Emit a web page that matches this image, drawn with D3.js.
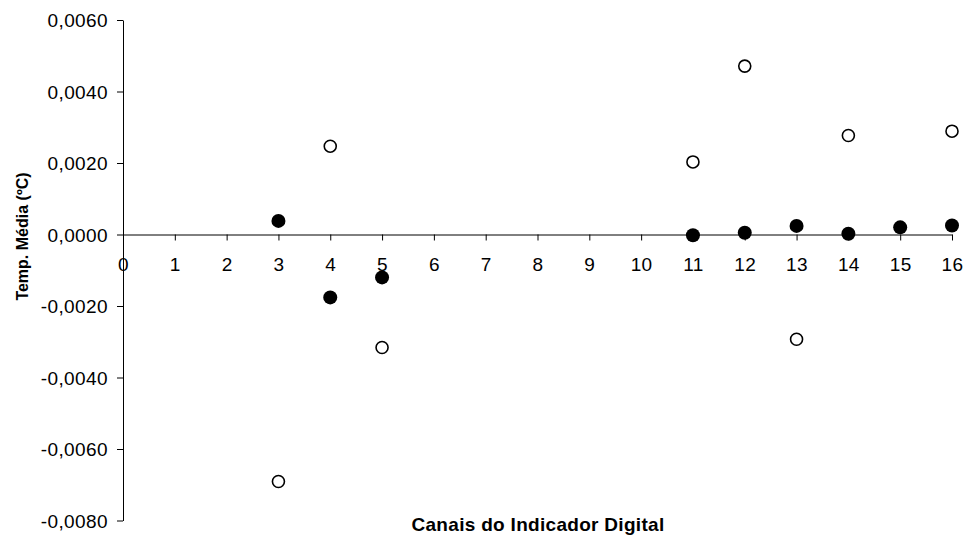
<!DOCTYPE html>
<html>
<head>
<meta charset="utf-8">
<script src="https://cdn.jsdelivr.net/npm/d3@7"></script>
<style>
  body { margin: 0; background: #fff; }
  svg text { font-family: "Liberation Sans", Arial, sans-serif; fill: #000; }
  .axis path, .axis line { stroke: #000; stroke-width: 1px; }
  .axis text { font-size: 19px; letter-spacing: 0.4px; }
</style>
</head>
<body>
<div id="chart"></div>
<script>
// Channels of the digital indicator
var canais = [3, 4, 5, 11, 12, 13, 14, 15, 16];
// Filled series (mean temperature)
var serieCheia = [0.00038, -0.00176, -0.00120, -0.00002, 0.00005, 0.00024, 0.00002, 0.00020, 0.00025];
// Open series (channels where visible)
var canaisAbertos = [3, 4, 5, 11, 12, 13, 14, 16];
var serieAberta = [-0.00691, 0.00247, -0.00316, 0.00203, 0.00471, -0.00293, 0.00277, 0.00289];
var xTicks = d3.range(0, 17);
var yTicks = [-0.008, -0.006, -0.004, -0.002, 0, 0.002, 0.004, 0.006];

var width = 966, height = 535;
var margin = {top: 20, right: 14, bottom: 14, left: 123};

var x = d3.scaleLinear().domain([0, 16]).range([margin.left, 952]);
var y = d3.scaleLinear().domain([-0.008, 0.006]).range([520.5, 20]);

var svg = d3.select("#chart").append("svg")
  .attr("width", width)
  .attr("height", height);

// comma decimal, plain hyphen for negatives
var fmt = function(d) { return d3.format(".4f")(d).replace(".", ",").replace("\u2212", "-"); };

// y axis
svg.append("g")
  .attr("class", "axis")
  .attr("transform", "translate(" + x(0) + ",0)")
  .call(d3.axisLeft(y).tickValues(yTicks).tickFormat(fmt).tickSize(6).tickSizeOuter(0).tickPadding(9))
  .call(function(g) { g.selectAll("text").attr("dy", "0.35em"); });

// x axis, crossing at zero
svg.append("g")
  .attr("class", "axis")
  .attr("transform", "translate(0," + y(0) + ")")
  .call(d3.axisBottom(x).tickValues(xTicks).tickFormat(d3.format("d")).tickSize(6).tickSizeOuter(0).tickPadding(17));

// open circles
svg.append("g").selectAll("circle")
  .data(canaisAbertos)
  .join("circle")
  .attr("cx", function(d) { return x(d); })
  .attr("cy", function(d, i) { return y(serieAberta[i]); })
  .attr("r", 6)
  .attr("fill", "#fff")
  .attr("stroke", "#000")
  .attr("stroke-width", 1.6);

// filled circles
svg.append("g").selectAll("circle")
  .data(canais)
  .join("circle")
  .attr("cx", function(d) { return x(d); })
  .attr("cy", function(d, i) { return y(serieCheia[i]); })
  .attr("r", 7)
  .attr("fill", "#000");

// axis titles
svg.append("text")
  .attr("x", 538)
  .attr("y", 531)
  .attr("text-anchor", "middle")
  .style("font-size", "19px")
  .style("letter-spacing", "0.3px")
  .style("font-weight", "bold")
  .text("Canais do Indicador Digital");

svg.append("text")
  .attr("transform", "translate(28," + (y(0) + 2) + ") rotate(-90)")
  .attr("text-anchor", "middle")
  .style("font-size", "16px")
  .style("font-weight", "bold")
  .text("Temp. Média (ºC)");
</script>
</body>
</html>
